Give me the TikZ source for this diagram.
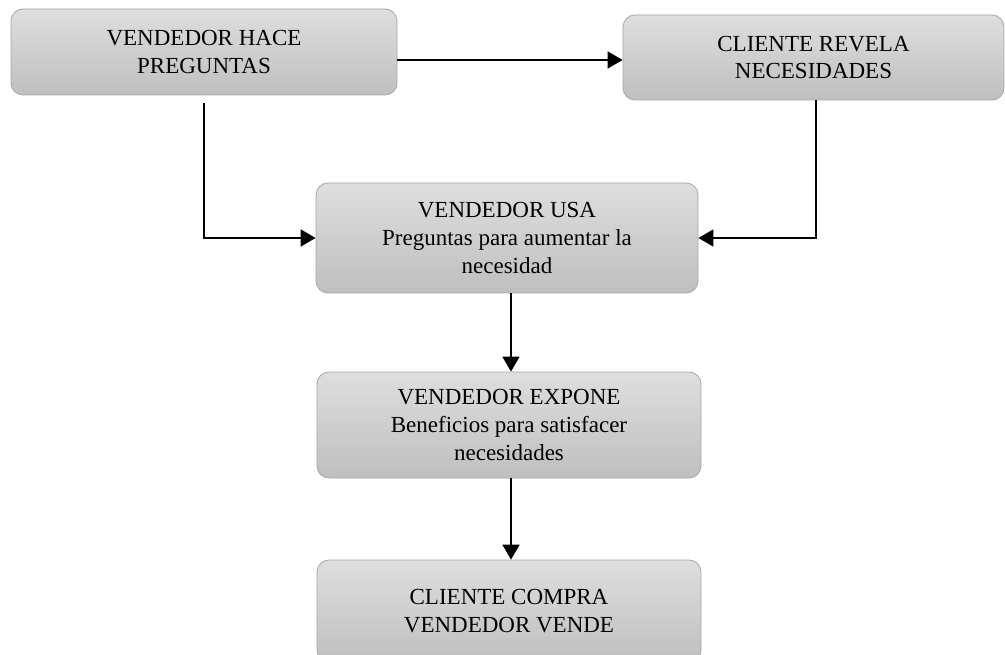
\documentclass[tikz,border=0pt]{standalone}
\usepackage{fontspec}
\setmainfont{Liberation Serif}
\usetikzlibrary{arrows.meta,positioning}
\definecolor{boxtop}{HTML}{DEDEDE}
\definecolor{boxbot}{HTML}{BFBFBF}
\definecolor{boxline}{HTML}{A6A6A6}
\tikzset{
  flowbox/.style={draw=boxline, line width=0.8pt, rounded corners=12pt,
    top color=boxtop, bottom color=boxbot, align=center, inner sep=2pt,
    font=\fontsize{23}{28}\selectfont, text=black},
  conn/.style={line width=1.8pt, -{Triangle[length=15pt,width=17pt]}},
}
\begin{document}
\begin{tikzpicture}[x=1pt,y=-1pt]
\clip (0,0) rectangle (1005,655);
\fill[white] (0,0) rectangle (1005,655);
\node[flowbox, minimum width=386pt, minimum height=86pt] (b1) at (204,52) {VENDEDOR HACE\\PREGUNTAS};
\node[flowbox, minimum width=381pt, minimum height=85pt] (b2) at (813.5,57.5) {CLIENTE REVELA\\NECESIDADES};
\node[flowbox, minimum width=382pt, minimum height=110pt] (b3) at (507,238) {VENDEDOR USA\\Preguntas para aumentar la\\necesidad};
\node[flowbox, minimum width=384pt, minimum height=106pt] (b4) at (509,425) {VENDEDOR EXPONE\\Beneficios para satisfacer\\necesidades};
\node[flowbox, minimum width=384pt, minimum height=102pt] (b5) at (509,611) {CLIENTE COMPRA\\VENDEDOR VENDE};
\coordinate (s1) at ([yshift=-8pt]b1.south);
\coordinate (s2) at ([xshift=2.5pt]b2.south);
\draw[conn] (b1.east |- 0,60) -- (b2.west |- 0,60);
\draw[conn] (s1) |- (b3.west);
\draw[conn] (s2) |- (b3.east);
\draw[conn] ([xshift=4pt]b3.south) -- ([xshift=2pt]b4.north);
\draw[conn] ([xshift=2pt]b4.south) -- ([xshift=2pt]b5.north);
\end{tikzpicture}
\end{document}
